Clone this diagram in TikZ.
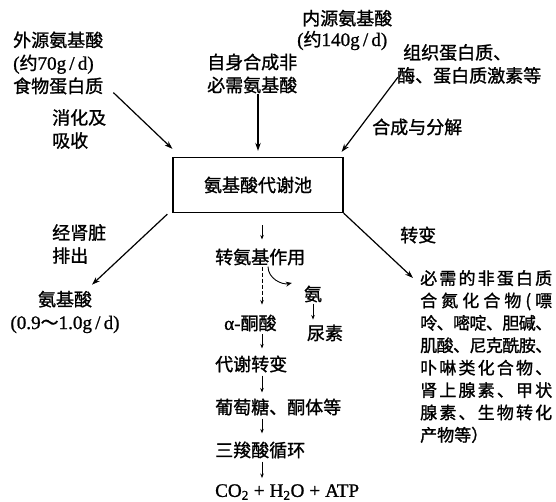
\documentclass[tikz,border=0pt]{standalone}
\usepackage{fontspec}
\setmainfont{Noto Sans CJK SC}[FakeBold=1.2]
\newfontfamily\latn{Liberation Serif}[FakeBold=1,Scale=1.06]
\usetikzlibrary{arrows.meta,calc}
\newskip\jspreadglue
\jspreadglue=0pt plus 1fil minus 1fil
\def\jspread#1{\hbox to 132pt{\jspreadi#1\relax}}
\def\jspreadi#1{#1\futurelet\jspnext\jspreadii}
\def\jspreadii{\ifx\jspnext\relax\expandafter\jspreadend\else\hskip\jspreadglue\expandafter\jspreadi\fi}
\def\jspreadend\relax{}
\begin{document}
\begin{tikzpicture}[x=1pt,y=-1pt,
  every node/.style={inner sep=0pt,font=\fontsize{18pt}{23pt}\selectfont},
  arr/.style={line width=1.2pt,-{Stealth[length=8pt,width=5.5pt]}},
  sarr/.style={line width=0.7pt,-{Stealth[length=4.5pt,width=3.5pt]}},
  curvearr/.style={line width=0.9pt,-{Stealth[length=6pt,width=5pt]}},
  poolbox/.style={draw,line width=1.3pt,minimum width=170pt,minimum height=55pt}]
\fill[white] (0,0) rectangle (556,502);
\useasboundingbox (0,0) rectangle (556,502);
\coordinate (col) at (262,0);

\node[anchor=west,align=left] (ext) at (13,63) {外源氨基酸\\{\latn(}约{\latn 70g\,/\,d)}\\食物蛋白质};
\node[anchor=west,align=left] (dig) at (52,129) {消化及\\吸收};
\node[anchor=west,align=left] (self) at (207,73.5) {自身合成非\\必需氨基酸};
\node[anchor=west,align=left,font=\fontsize{18pt}{21pt}\selectfont] (endo) at (297,30) {\hspace*{5pt}内源氨基酸\\{\latn(}约{\latn 140g\,/\,d)}};
\node[anchor=west,align=left] (tissue) at (397,64) {\hspace*{6pt}组织蛋白质、\\酶、蛋白质激素等};
\node[anchor=west] (synth) at (372,127) {合成与分解};
\node[poolbox] (pool) at (258,185) {氨基酸代谢池};
\node[anchor=west,align=left] (kid) at (52,244) {经肾脏\\排出};
\node[align=center] (aaout) at (65,312) {氨基酸\\{\latn(0.9}～{\latn 1.0g\,/\,d)}};
\node[anchor=west] (conv) at (400,235) {转变};
\node[anchor=north west,align=left,font=\fontsize{17pt}{22.4pt}\selectfont] (nonprot) at (420,270)
  {\jspread{必需的非蛋白质}\\\jspread{合氮化合物(嘌}\\\jspread{呤、嘧啶、胆碱、}\\\jspread{肌酸、尼克酰胺、}\\\jspread{卟啉类化合物、}\\\jspread{肾上腺素、甲状}\\\jspread{腺素、生物转化}\\产物等）};
\node[anchor=west] (trans) at (215,257) {转氨基作用};
\node (amm) at (313,294) {氨};
\node (urea) at (325,333) {尿素};
\node[anchor=west] (keto) at (224,323) {{\latn α-}酮酸};
\node[anchor=west] (metab) at (215,364) {代谢转变};
\node[anchor=west] (glc) at (215,407) {葡萄糖、酮体等};
\node[anchor=west] (tca) at (215,450) {三羧酸循环};
\node[anchor=west] (atp) at (215,492) {\latn CO\textsubscript{2}\hspace{5pt}+\hspace{5pt}H\textsubscript{2}O\hspace{5pt}+\hspace{5pt}ATP};

\draw[arr] ($(ext.south east)+(10,-2)$) -- ($(pool.north west)+(0,-8)$);
\draw[arr] (self.south -| pool.north) -- ($(pool.north)+(0,-6)$);
\draw[arr] ($(tissue.south west)+(1,-7)$) -- ($(pool.north east)+(-2,-5)$);
\draw[arr] ($(pool.south west)+(-5,1)$) -- ($(aaout.north)+(27,-6)$);
\draw[arr] (pool.south east) -- ($(nonprot.north west)+(-7,8)$);

\draw[sarr] ($(pool.south -| col)+(0,12)$) -- ($(trans.north -| col)+(0,-9)$);
\draw[sarr,dash pattern=on 4pt off 2pt] ($(trans.south -| col)+(0,1)$) -- ($(keto.north -| col)+(0,-10)$);
\draw[curvearr] ($(trans.south -| col)+(6,1)$) .. controls +(0,12) and +(-10,2) .. ($(amm.west)+(-12,-11)$);
\draw[sarr] ($(amm.south)+(0,1)$) -- ($(amm.south |- urea.north)+(0,-5)$);
\draw[sarr] ($(keto.south -| col)+(0,3)$) -- ($(metab.north -| col)+(0,-7)$);
\draw[sarr] ($(metab.south -| col)+(0,3)$) -- ($(glc.north -| col)+(0,-6)$);
\draw[sarr] ($(glc.south -| col)+(0,3)$) -- ($(tca.north -| col)+(0,-8)$);
\draw[sarr] ($(tca.south -| col)+(0,3)$) -- ($(atp.north -| col)+(0,-6)$);
\end{tikzpicture}
\end{document}
